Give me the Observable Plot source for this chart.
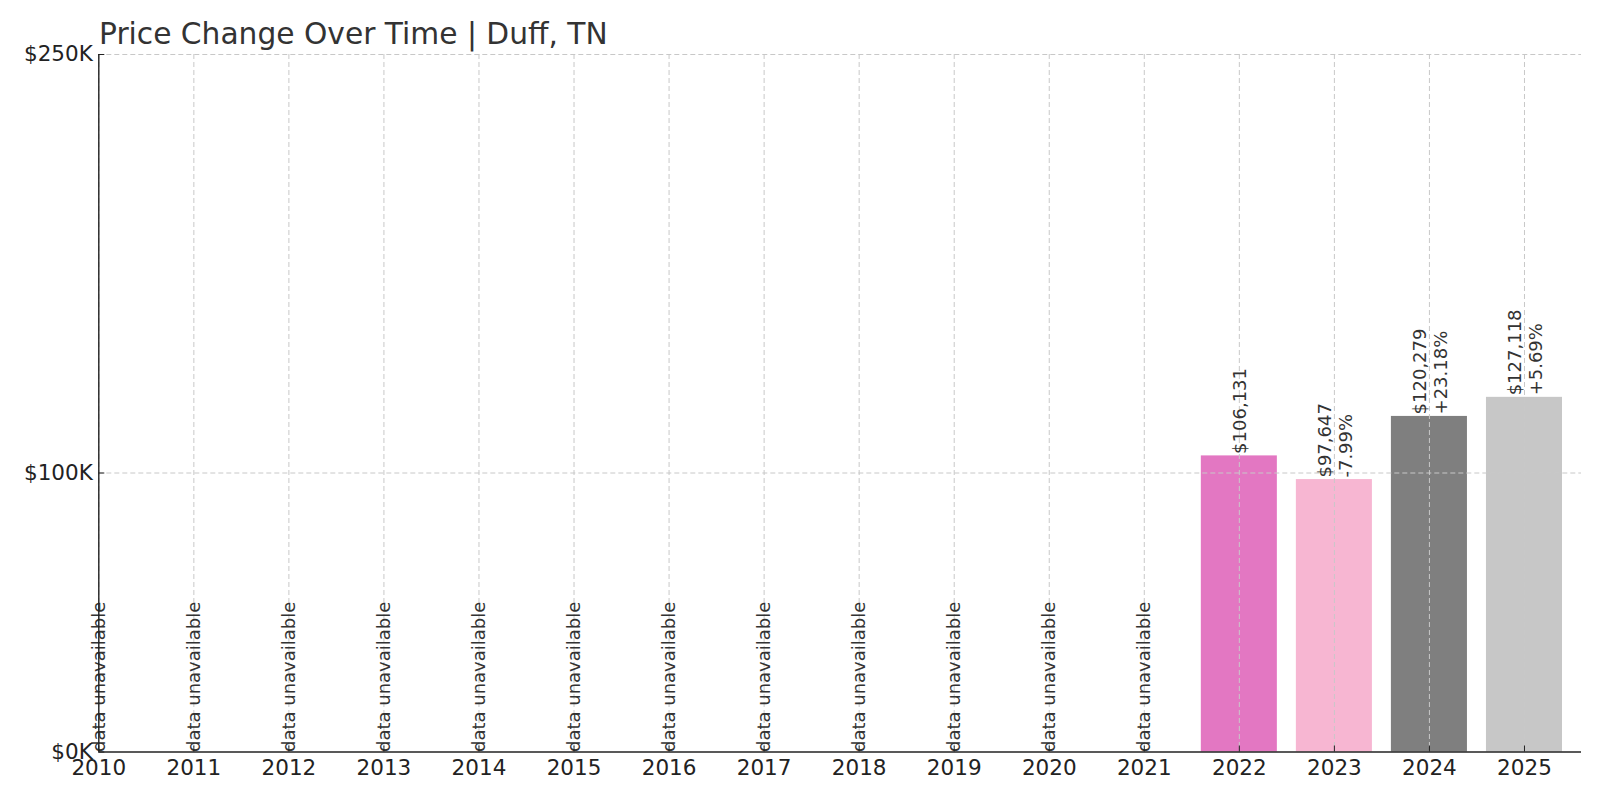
<!DOCTYPE html>
<html>
<head>
<meta charset="utf-8">
<script src="https://cdn.jsdelivr.net/npm/d3@7"></script>
<script src="https://cdn.jsdelivr.net/npm/@observablehq/plot@0.6"></script>
<style>
  html, body { margin: 0; padding: 0; background: #ffffff; }
  #wrap { position: relative; width: 1600px; height: 800px; font-family: "DejaVu Sans", sans-serif; }
  #title { position: absolute; left: 99px; top: 19px; font-size: 29.7px; line-height: 1; color: #333333; white-space: nowrap; }
</style>
</head>
<body>
<div id="wrap">
  <div id="title">Price Change Over Time | Duff, TN</div>
</div>
<script>
const years = [2010, 2011, 2012, 2013, 2014, 2015, 2016, 2017, 2018, 2019, 2020, 2021, 2022, 2023, 2024, 2025];
const prices = [null, null, null, null, null, null, null, null, null, null, null, null, 106131, 97647, 120279, 127118];
const changes = [null, null, null, null, null, null, null, null, null, null, null, null, null, "-7.99%", "+23.18%", "+5.69%"];
const barColors = {2022: "#e377c2", 2023: "#f7b6d2", 2024: "#7f7f7f", 2025: "#c7c7c7"};
const yTicks = [0, 100000, 250000];
const unavailableText = "data unavailable";

const rows = years.map((year, i) => ({year, price: prices[i], change: changes[i]}));
const known = rows.filter(d => d.price != null);
const missing = rows.filter(d => d.price == null);
const fmt = d3.format(",");
const labelOf = d => "$" + fmt(d.price) + (d.change ? "\n" + d.change : "");

const chart = Plot.plot({
  width: 1600,
  height: 800,
  marginTop: 54,
  marginBottom: 48.5,
  marginLeft: 98.3,
  marginRight: 19,
  style: {fontFamily: "DejaVu Sans", fontSize: "18px", background: "white", color: "#222"},
  x: {type: "linear", domain: [2010, 2025.6], axis: null},
  y: {domain: [0, 250000], axis: null},
  marks: [
    Plot.rectY(known, {x1: d => d.year - 0.4, x2: d => d.year + 0.4, y: "price", fill: d => barColors[d.year]}),
    Plot.gridX(years, {stroke: "#c8c8c8", strokeOpacity: 1, strokeWidth: 1, strokeDasharray: "5,3"}),
    Plot.gridY(yTicks.filter(t => t > 0), {stroke: "#c8c8c8", strokeOpacity: 1, strokeWidth: 1, strokeDasharray: "5,3"}),
    Plot.text(known, {x: "year", y: "price", text: labelOf, rotate: -90, textAnchor: "start", lineAnchor: "middle", lineHeight: 1.17, dy: -2, fontSize: 18, fill: "#333"}),
    Plot.text(missing, {x: "year", y: 0, text: () => unavailableText, rotate: -90, textAnchor: "start", lineAnchor: "middle", fontSize: 18, fill: "#333"}),
    Plot.ruleY([0], {stroke: "#222", strokeWidth: 1.4}),
    Plot.ruleX([2010], {stroke: "#222", strokeWidth: 1.4}),
    Plot.axisX({ticks: years, tickFormat: d => String(d), tickSize: -6, tickPadding: 14, fontSize: 21.5, color: "#222", label: null}),
    Plot.axisY({ticks: yTicks, tickFormat: d => "$" + (d / 1000) + "K", tickSize: -6, tickPadding: 12, fontSize: 21.5, color: "#222", label: null})
  ]
});
document.getElementById("wrap").prepend(chart);
chart.style.position = "absolute";
chart.style.left = "0";
chart.style.top = "0";
</script>
</body>
</html>
